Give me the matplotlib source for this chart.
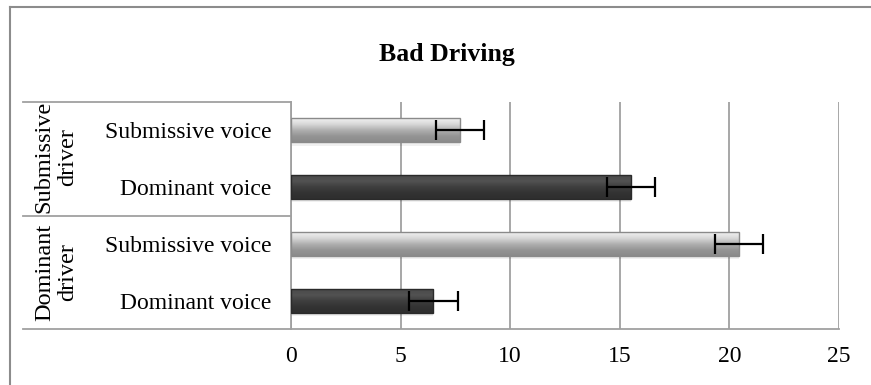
import numpy as np
import matplotlib
matplotlib.use("Agg")
import matplotlib.pyplot as plt
from matplotlib.lines import Line2D
from matplotlib.colors import LinearSegmentedColormap

plt.rcParams['font.family'] = ['Liberation Serif', 'DejaVu Serif']

# data, bottom to top
voices = ['Dominant voice', 'Submissive voice', 'Dominant voice', 'Submissive voice']
drivers = ['Dominant\ndriver', 'Submissive\ndriver']
values = [6.5, 20.45, 15.5, 7.7]
errors = [1.1, 1.1, 1.1, 1.1]
kinds = ['dark', 'light', 'dark', 'light']

W, H = 871, 385
fig = plt.figure(figsize=(W / 100, H / 100), dpi=100)

# plot area in pixels
px_l, px_r, px_t, px_b = 291, 839, 102, 329
ax = fig.add_axes([px_l / W, 1 - px_b / H, (px_r - px_l) / W, (px_b - px_t) / H])

cmaps = {
    'light': LinearSegmentedColormap.from_list(
        'l', ['#f2f2f2', '#d8d8d8', '#b0b0b0', '#959595', '#8a8a8a']),
    'dark': LinearSegmentedColormap.from_list(
        'd', ['#4a4a4a', '#525252', '#3e3e3e', '#333333', '#2e2e2e']),
}
edges = {'light': '#8a8a8a', 'dark': '#2a2a2a'}

y = np.arange(len(values))
bh = 0.42
grad = np.linspace(0, 1, 64).reshape(-1, 1)
for yi, v, k in zip(y, values, kinds):
    # soft shadow
    ax.barh(yi - 0.06, v, height=bh, color='#000000', alpha=0.06, zorder=2)
    ax.imshow(grad, cmap=cmaps[k], aspect='auto', zorder=3,
              extent=[0, v, yi - bh / 2, yi + bh / 2], origin='upper')
    ax.barh(yi, v, height=bh, facecolor='none', edgecolor=edges[k],
            linewidth=1.0, zorder=4)

ax.errorbar(values, y, xerr=errors, fmt='none', ecolor='black',
            elinewidth=1.6, capsize=7.5, capthick=1.6, zorder=5)

ax.set_xlim(0, 25)
ax.set_ylim(-0.5, 3.5)
ax.set_xticks([0, 5, 10, 15, 20, 25])
ax.set_yticks(y)
ax.set_yticklabels(voices)
ax.tick_params(axis='both', length=0, labelsize=17)
ax.tick_params(axis='y', pad=14)
ax.tick_params(axis='x', pad=12)
ax.grid(axis='x', color='#a0a0a0', linewidth=1.3, zorder=1)
for s in ['top', 'right']:
    ax.spines[s].set_visible(False)
ax.spines['left'].set_color('#a0a0a0')
ax.spines['bottom'].set_color('#a0a0a0')
ax.spines['left'].set_linewidth(1.3)
ax.spines['bottom'].set_linewidth(1.3)
ax.set_axisbelow(True)

# category table lines and group labels
def fx(p):
    return p / W

def fy(p):
    return 1 - p / H

for yy in [px_t, 216, px_b]:
    fig.add_artist(Line2D([fx(23), fx(px_l)], [fy(yy), fy(yy)],
                          color='#a0a0a0', linewidth=1.3))
fig.text(fx(56), fy(272), drivers[0], rotation=90, ha='center', va='center',
         fontsize=17.5, linespacing=1.15, multialignment='center')
fig.text(fx(56), fy(157), drivers[1], rotation=90, ha='center', va='center',
         fontsize=17.5, linespacing=1.15, multialignment='center')

# outer chart frame (cut by the image edge)
fig.add_artist(Line2D([fx(10), fx(10)], [fy(7), 0], color='#8c8c8c', linewidth=1.5))
fig.add_artist(Line2D([fx(10), 1], [fy(7), fy(7)], color='#8c8c8c', linewidth=1.5))

fig.text(fx(447), fy(55), 'Bad Driving', ha='center', va='center',
         fontsize=18.5, fontweight='bold')

fig.savefig('out.png', dpi=100)
